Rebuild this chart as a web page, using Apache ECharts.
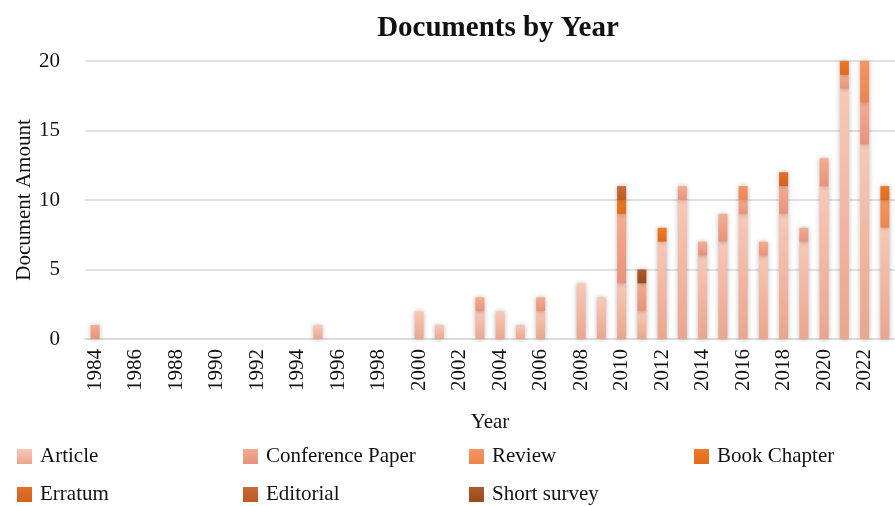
<!DOCTYPE html>
<html>
<head>
<meta charset="utf-8">
<script src="https://cdn.jsdelivr.net/npm/echarts@6/dist/echarts.min.js"></script>
<style>
  html, body { margin: 0; padding: 0; background: #fff; }
  #chart { width: 895px; height: 506px; }
</style>
</head>
<body>
<div id="chart"></div>
<script>
// years 1984 .. 2023
const years = ['1984', '1985', '1986', '1987', '1988', '1989', '1990', '1991', '1992', '1993',
  '1994', '1995', '1996', '1997', '1998', '1999', '2000', '2001', '2002', '2003',
  '2004', '2005', '2006', '2007', '2008', '2009', '2010', '2011', '2012', '2013',
  '2014', '2015', '2016', '2017', '2018', '2019', '2020', '2021', '2022', '2023']

const article =         [0, 0, 0, 0, 0, 0, 0, 0, 0, 0, 0, 1, 0, 0, 0, 0, 2, 1, 0, 2, 2, 1, 2, 0, 4, 3, 4, 2, 7, 10, 6, 7, 9, 6, 9, 7, 11, 18, 14, 8]
const conferencePaper = [1, 0, 0, 0, 0, 0, 0, 0, 0, 0, 0, 0, 0, 0, 0, 0, 0, 0, 0, 1, 0, 0, 1, 0, 0, 0, 5, 2, 0, 1, 1, 2, 1, 1, 2, 1, 2, 1, 3, 0]
const review =          [0, 0, 0, 0, 0, 0, 0, 0, 0, 0, 0, 0, 0, 0, 0, 0, 0, 0, 0, 0, 0, 0, 0, 0, 0, 0, 0, 0, 0, 0, 0, 0, 1, 0, 0, 0, 0, 0, 3, 2]
const bookChapter =     [0, 0, 0, 0, 0, 0, 0, 0, 0, 0, 0, 0, 0, 0, 0, 0, 0, 0, 0, 0, 0, 0, 0, 0, 0, 0, 1, 0, 1, 0, 0, 0, 0, 0, 0, 0, 0, 1, 0, 1]
const erratum =         [0, 0, 0, 0, 0, 0, 0, 0, 0, 0, 0, 0, 0, 0, 0, 0, 0, 0, 0, 0, 0, 0, 0, 0, 0, 0, 0, 0, 0, 0, 0, 0, 0, 0, 1, 0, 0, 0, 0, 0]
const editorial =       [0, 0, 0, 0, 0, 0, 0, 0, 0, 0, 0, 0, 0, 0, 0, 0, 0, 0, 0, 0, 0, 0, 0, 0, 0, 0, 1, 0, 0, 0, 0, 0, 0, 0, 0, 0, 0, 0, 0, 0]
const shortSurvey =     [0, 0, 0, 0, 0, 0, 0, 0, 0, 0, 0, 0, 0, 0, 0, 0, 0, 0, 0, 0, 0, 0, 0, 0, 0, 0, 0, 1, 0, 0, 0, 0, 0, 0, 0, 0, 0, 0, 0, 0]

const yTicks = { min: 0, max: 20, interval: 5 }

const font = 'Liberation Serif'

// name, values, top colour, bottom colour
const seriesDefs = [
  ['Article', article, '#f8c8b7', '#eaa68e'],
  ['Conference Paper', conferencePaper, '#f4ac90', '#e8927a'],
  ['Review', review, '#f59562', '#eb8550'],
  ['Book Chapter', bookChapter, '#ec7a2a', '#e06a18'],
  ['Erratum', erratum, '#e2702a', '#d2621c'],
  ['Editorial', editorial, '#cc6a36', '#b85a22'],
  ['Short survey', shortSurvey, '#ae5a2c', '#9a4a18']
]

const chart = echarts.init(document.getElementById('chart'))

const series = seriesDefs.map(([name, values, c1, c2]) => ({
  name: name,
  type: 'bar',
  stack: 'docs',
  barWidth: 9,
  data: values.map(v => (v ? v : null)),
  itemStyle: {
    color: new echarts.graphic.LinearGradient(0, 0, 0, 1, [
      { offset: 0, color: c1 },
      { offset: 1, color: c2 }
    ]),
    shadowBlur: 5,
    shadowColor: 'rgba(0,0,0,0.28)'
  }
}))

// one legend per item so the 4-column grid lines up like the original
const legendPos = {
  'Article': [17, 446],
  'Conference Paper': [243, 446],
  'Review': [469, 446],
  'Book Chapter': [694, 446],
  'Erratum': [17, 484],
  'Editorial': [243, 484],
  'Short survey': [469, 484]
}
const legends = Object.keys(legendPos).map(name => ({
  left: legendPos[name][0],
  top: legendPos[name][1],
  padding: 0,
  itemWidth: 15,
  itemHeight: 15,
  icon: 'rect',
  selectedMode: false,
  textStyle: { fontFamily: font, fontSize: 21, color: '#111', padding: [0, 0, 0, 3] },
  data: [name]
}))

chart.setOption({
  animation: false,
  title: {
    text: 'Documents by Year',
    left: 493,
    textAlign: 'center',
    top: 9,
    textStyle: { fontFamily: font, fontSize: 29, fontWeight: 'bold', color: '#111' }
  },
  legend: legends,
  grid: {
    left: 85,
    top: 61,
    width: 816,
    height: 278
  },
  xAxis: {
    type: 'category',
    data: years,
    name: 'Year',
    nameLocation: 'middle',
    nameGap: 73,
    nameTextStyle: { fontFamily: font, fontSize: 21, color: '#111' },
    axisLine: { lineStyle: { color: '#d9d9d9', width: 1.5 } },
    axisTick: { interval: 1, length: 7, lineStyle: { color: '#d9d9d9', width: 1.5 } },
    axisLabel: {
      interval: 1,
      rotate: 90,
      margin: 10,
      fontFamily: font,
      fontSize: 21,
      color: '#111'
    }
  },
  yAxis: {
    type: 'value',
    min: yTicks.min,
    max: yTicks.max,
    interval: yTicks.interval,
    name: 'Document Amount',
    nameLocation: 'middle',
    nameGap: 50,
    nameMoveOverlap: false,
    nameTextStyle: { fontFamily: font, fontSize: 21, color: '#111' },
    axisLine: { show: false },
    axisTick: { show: false },
    axisLabel: { margin: 25, fontFamily: font, fontSize: 21, color: '#111' },
    splitLine: { lineStyle: { color: '#d9d9d9', width: 1.5 } }
  },
  series: series
})
</script>
</body>
</html>
